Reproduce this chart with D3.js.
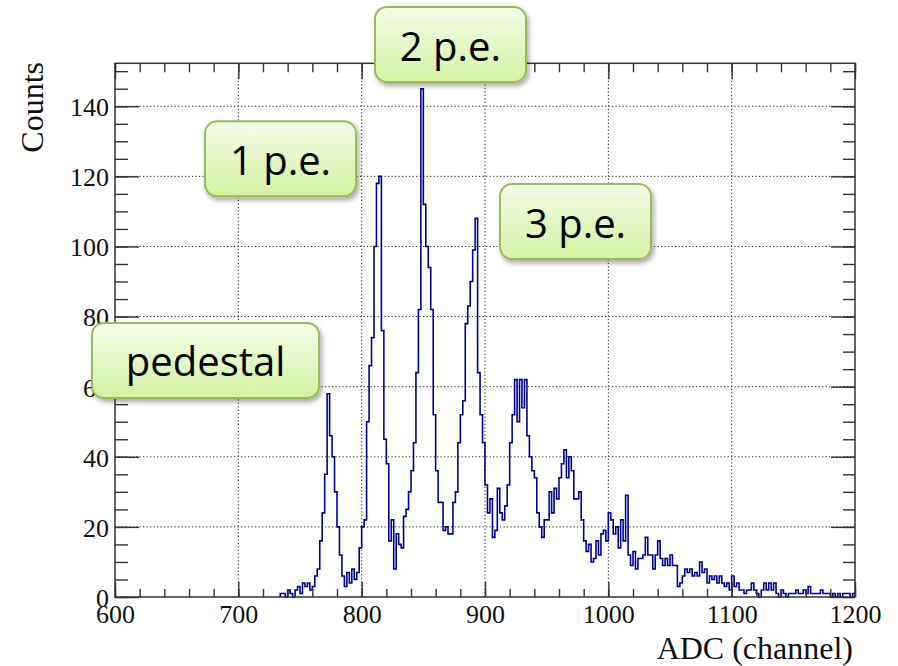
<!DOCTYPE html>
<html>
<head>
<meta charset="utf-8">
<script src="https://cdn.jsdelivr.net/npm/d3@7"></script>
<style>
  html, body { margin: 0; padding: 0; background: #fff; }
  svg { display: block; }
</style>
</head>
<body>
<div id="plot"></div>
<script>
// Histogram of ADC channels, bins of 2 channels starting at channel 734.
var firstBin = 734, binWidth = 2;
var counts = [
    1, 1, 0, 2, 1, 0, 2, 3, 1, 4,          // 734
    3, 4, 2, 3, 6, 8, 16, 24, 35, 58,      // 754
    46, 40, 30, 20, 12, 6, 3, 7, 4, 8,     // 774
    5, 7, 14, 20, 22, 50, 66, 74, 100, 118, // 794
    120, 76, 45, 38, 16, 22, 8, 18, 15, 14, // 814
    23, 25, 30, 36, 44, 64, 82, 145, 112, 100, // 834
    94, 82, 52, 36, 27, 27, 19, 20, 18, 18, // 854
    27, 30, 44, 52, 56, 78, 83, 90, 99, 108, // 874
    64, 52, 44, 32, 24, 28, 17, 19, 31, 24, // 894
    22, 26, 32, 44, 52, 62, 50, 62, 54, 62, // 914
    46, 40, 36, 34, 24, 20, 17, 22, 22, 30, // 934
    24, 31, 28, 34, 38, 42, 34, 40, 36, 28, // 954
    28, 30, 22, 16, 13, 15, 10, 11, 16, 12, // 974
    18, 19, 16, 24, 22, 18, 20, 14, 22, 16, // 994
    29, 12, 9, 13, 8, 11, 11, 12, 17, 12,  // 1014
    12, 8, 12, 16, 11, 9, 11, 9, 12, 9,    // 1034
    9, 3, 4, 6, 8, 7, 8, 6, 7, 6,          // 1054
    10, 7, 8, 4, 6, 5, 6, 4, 6, 4,         // 1074
    3, 4, 2, 6, 3, 4, 2, 2, 1, 2,          // 1094
    2, 4, 2, 1, 0, 2, 4, 2, 4, 2,          // 1114
    4, 1, 0, 2, 1, 0, 1, 1, 1, 2,          // 1134
    1, 1, 2, 1, 3, 1, 1, 1, 1, 2,          // 1154
    1, 1, 1, 0, 1, 0, 1, 0, 1, 1,          // 1174
    1, 0, 1                                // 1194
];

var xTicks = [600, 700, 800, 900, 1000, 1100, 1200];
var yTicks = [0, 20, 40, 60, 80, 100, 120, 140];

// Callouts: label, channel and count of the box centre.
var labels = ["pedestal", "1 p.e.", "2 p.e.", "3 p.e."];
var labelX = [673.4, 734.2, 872, 973.4];
var labelY = [67.5, 125, 157.6, 107.1];

(function() {
    var W = 898, H = 666;
    var pL = 115, pR = 855, pT = 63.3, pB = 597;

    var svg = d3.select("div#plot")
        .append("svg")
            .attr("width", W)
            .attr("height", H)
            .attr("viewBox", "0 0 " + W + " " + H);

    var x = d3.scaleLinear().domain([600, 1200]).range([pL, pR]);
    var y = d3.scaleLinear().domain([0, 152.25]).range([pB, pT]);

    // Dotted grid at the major ticks.
    var grid = svg.append("g")
        .attr("stroke", "#222")
        .attr("stroke-width", 1)
        .attr("stroke-dasharray", "1.2,2.3");
    grid.selectAll("line.gx")
        .data(xTicks.slice(1, -1))
        .join("line")
            .attr("class", "gx")
            .attr("x1", d => x(d)).attr("x2", d => x(d))
            .attr("y1", pT).attr("y2", pB);
    grid.selectAll("line.gy")
        .data(yTicks.slice(1))
        .join("line")
            .attr("class", "gy")
            .attr("x1", pL).attr("x2", pR)
            .attr("y1", d => y(d)).attr("y2", d => y(d));

    // Histogram outline.
    var pts = [[firstBin, 0]];
    counts.forEach(function(c, i) {
        pts.push([firstBin + i * binWidth, c]);
    });
    pts.push([firstBin + counts.length * binWidth, 0]);

    var line = d3.line()
        .x(d => x(d[0]))
        .y(d => y(d[1]))
        .curve(d3.curveStepAfter);

    svg.append("path")
        .datum(pts)
        .attr("fill", "none")
        .attr("stroke", "#00009c")
        .attr("stroke-width", 1.6)
        .attr("d", line);

    // Axes: ticks point inward on all four sides.
    var xMinor = d3.range(600, 1201, 20);
    var yMinor = d3.range(0, 151, 5);
    var serif = "'Liberation Serif', 'Times New Roman', serif";

    function styleAxis(g) {
        g.select(".domain").remove();
        g.selectAll("line").attr("stroke", "#333").attr("stroke-width", 1.4);
        g.selectAll("text")
            .attr("fill", "#111")
            .attr("font-family", serif)
            .attr("font-size", 26);
    }

    svg.append("g")
        .attr("transform", "translate(0," + pB + ")")
        .call(d3.axisBottom(x).tickValues(xMinor).tickSize(-8).tickFormat(""))
        .call(styleAxis);
    svg.append("g")
        .attr("transform", "translate(0," + pB + ")")
        .call(d3.axisBottom(x).tickValues(xTicks).tickSize(-15).tickPadding(8)
            .tickFormat(d3.format("d")))
        .call(styleAxis);

    svg.append("g")
        .attr("transform", "translate(0," + pT + ")")
        .call(d3.axisTop(x).tickValues(xMinor).tickSize(-9).tickFormat(""))
        .call(styleAxis);
    svg.append("g")
        .attr("transform", "translate(0," + pT + ")")
        .call(d3.axisTop(x).tickValues(xTicks).tickSize(-16).tickFormat(""))
        .call(styleAxis);

    svg.append("g")
        .attr("transform", "translate(" + pL + ",0)")
        .call(d3.axisLeft(y).tickValues(yMinor).tickSize(-13).tickFormat(""))
        .call(styleAxis);
    svg.append("g")
        .attr("transform", "translate(" + pL + ",0)")
        .call(d3.axisLeft(y).tickValues(yTicks).tickSize(-24).tickPadding(6)
            .tickFormat(d3.format("d")))
        .call(styleAxis)
        .selectAll("text").attr("dy", "0.36em");

    svg.append("g")
        .attr("transform", "translate(" + pR + ",0)")
        .call(d3.axisRight(y).tickValues(yMinor).tickSize(-12).tickFormat(""))
        .call(styleAxis);
    svg.append("g")
        .attr("transform", "translate(" + pR + ",0)")
        .call(d3.axisRight(y).tickValues(yTicks).tickSize(-24).tickFormat(""))
        .call(styleAxis);

    // Frame.
    svg.append("rect")
        .attr("x", pL).attr("y", pT)
        .attr("width", pR - pL).attr("height", pB - pT)
        .attr("fill", "none")
        .attr("stroke", "#333")
        .attr("stroke-width", 1.5);

    // Axis titles.
    svg.append("text")
        .attr("x", 853).attr("y", 659)
        .attr("text-anchor", "end")
        .attr("font-family", serif)
        .attr("font-size", 32)
        .attr("fill", "#111")
        .text("ADC (channel)");

    svg.append("text")
        .attr("transform", "translate(43,62) rotate(-90)")
        .attr("text-anchor", "end")
        .attr("font-family", serif)
        .attr("font-size", 32)
        .attr("fill", "#111")
        .text("Counts");

    // Green callout boxes.
    var defs = svg.append("defs");
    var grad = defs.append("linearGradient")
        .attr("id", "boxfill")
        .attr("x1", 0).attr("y1", 0).attr("x2", 0).attr("y2", 1);
    grad.append("stop").attr("offset", "0%").attr("stop-color", "#f4fce9");
    grad.append("stop").attr("offset", "100%").attr("stop-color", "#d3f2a0");

    var shadow = defs.append("filter")
        .attr("id", "shadow")
        .attr("x", "-20%").attr("y", "-20%")
        .attr("width", "140%").attr("height", "150%");
    shadow.append("feDropShadow")
        .attr("dx", 2).attr("dy", 3)
        .attr("stdDeviation", 2.5)
        .attr("flood-color", "#000")
        .attr("flood-opacity", 0.35);

    var boxW = [227, 151, 151, 151], boxH = 75;

    var callout = svg.append("g")
        .selectAll("g")
        .data(labels)
        .join("g")
            .attr("transform", (d, i) =>
                "translate(" + x(labelX[i]) + "," + y(labelY[i]) + ")");

    callout.append("rect")
        .attr("x", (d, i) => -boxW[i] / 2)
        .attr("y", -boxH / 2)
        .attr("width", (d, i) => boxW[i])
        .attr("height", boxH)
        .attr("rx", 12).attr("ry", 12)
        .attr("fill", "url(#boxfill)")
        .attr("stroke", "#9bbb59")
        .attr("stroke-width", 2)
        .attr("filter", "url(#shadow)");

    callout.append("text")
        .attr("y", 16)
        .attr("text-anchor", "middle")
        .attr("font-family", "'Open Sans', 'Noto Sans', sans-serif")
        .attr("font-size", 40)
        .attr("fill", "#000")
        .text(d => d);
})();
</script>
</body>
</html>
